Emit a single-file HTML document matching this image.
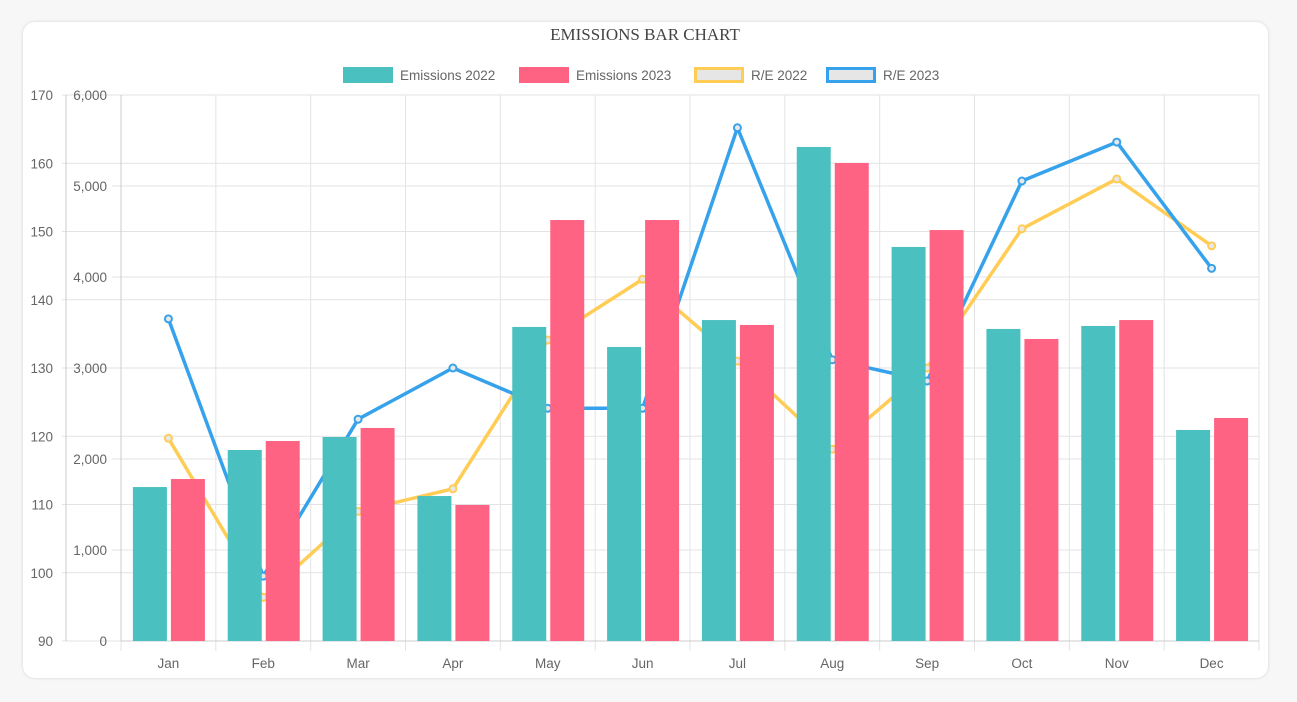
<!DOCTYPE html>
<html><head><meta charset="utf-8"><style>
body{margin:0;background:#f7f7f8;width:1297px;height:702px;overflow:hidden;font-family:"Liberation Sans",sans-serif}
#card{position:absolute;left:23px;top:22px;width:1245px;height:656px;background:#fff;border-radius:12px;box-shadow:0 0 3px rgba(0,0,0,0.15)}
svg{position:absolute;left:0;top:0}
</style></head><body>
<div id="card"></div>
<svg id="chart" width="1297" height="702"></svg>
<script>
const months=["Jan","Feb","Mar","Apr","May","Jun","Jul","Aug","Sep","Oct","Nov","Dec"];
const emissions2022=[1692,2099,2242,1593,3451,3231,3527,5429,4330,3429,3462,2319];
const emissions2023=[1780,2198,2341,1495,4626,4626,3473,5253,4516,3319,3527,2451];
const re2022=[119.7,96.4,109.0,112.3,134.1,143.0,131.0,118.1,130.0,150.4,157.7,147.9];
const re2023=[137.2,99.5,122.5,130.0,124.1,124.1,165.2,131.2,128.1,157.4,163.1,144.6];
const reTicks=[90,100,110,120,130,140,150,160,170];
const emTicks=[0,1000,2000,3000,4000,5000,6000];
const NS="http://www.w3.org/2000/svg";
const svg=document.getElementById('chart');
const L=121,R=1259,T=95,B=641;
const yRE=v=>B-(v-90)/80*(B-T);
const yEm=v=>B-v/6000*(B-T);
const cw=(R-L)/12;
const xC=i=>L+cw*(i+0.5);
function el(tag,a,txt){const e=document.createElementNS(NS,tag);for(const k in a)e.setAttribute(k,a[k]);if(txt!==undefined)e.textContent=txt;svg.appendChild(e);return e;}
let t=el('text',{x:645,y:40,'text-anchor':'middle','font-family':'Liberation Serif,serif','font-size':17,fill:'#444'},'EMISSIONS BAR CHART');


reTicks.forEach(v=>{const y=yRE(v);
 let g=el('line',{x1:62,x2:R,y1:y,y2:y,stroke:'#e3e3e3'});
 
 
 let tx=el('text',{x:53,y:y+5,'text-anchor':'end','font-size':13.5,fill:'#666'},v);
 
 });
emTicks.forEach(v=>{const y=yEm(v);
 let g=el('line',{x1:112,x2:R,y1:y,y2:y,stroke:'#e3e3e3'});
 
 
 let tx=el('text',{x:107,y:y+5,'text-anchor':'end','font-size':13.5,fill:'#666'},v.toLocaleString('en-US'));
 
 });
for(let i=0;i<=12;i++){const x=L+cw*i;let g=el('line',{x1:x,x2:x,y1:T,y2:B+10,stroke:'#e3e3e3'});
 
 }
el('line',{x1:66,x2:66,y1:T,y2:B,stroke:'#ccc'});
el('line',{x1:L,x2:L,y1:T,y2:B,stroke:'#ccc'});
el('line',{x1:L,x2:R,y1:B,y2:B,stroke:'#ccc'});
months.forEach((m,i)=>{let tx=el('text',{x:xC(i),y:668,'text-anchor':'middle','font-size':13.5,fill:'#666'},m);
 
 });
function line(data,color,name){
 const p=el('polyline',{points:data.map((v,i)=>xC(i)+','+yRE(v)).join(' '),fill:'none',stroke:color,'stroke-width':3.5,'stroke-linejoin':'round'});
 
 
 data.forEach((v,i)=>{const c=el('circle',{cx:xC(i),cy:yRE(v),r:3.5,fill:'#e8e8e8',stroke:color,'stroke-width':2});
  
  });
}
line(re2022,'#ffcd56','re-2022');
line(re2023,'#36a2eb','re-2023');
const bw=34;
months.forEach((m,i)=>{
 let b1=el('rect',{x:xC(i)-bw-1.5,y:yEm(emissions2022[i]),width:bw,height:B-yEm(emissions2022[i]),fill:'#4bc0c0'});
 
 
 let b2=el('rect',{x:xC(i)+2.5,y:yEm(emissions2023[i]),width:bw,height:B-yEm(emissions2023[i]),fill:'#ff6384'});
 
 });
const leg=[["Emissions 2022","#4bc0c0","#4bc0c0",343],["Emissions 2023","#ff6384","#ff6384",519],["R/E 2022","#e6e6e6","#ffcd56",694],["R/E 2023","#e6e6e6","#36a2eb",826]];
leg.forEach(l=>{
 let r=el('rect',{x:l[3]+1.5,y:68.5,width:47,height:13,fill:l[1],stroke:l[2],'stroke-width':3});
 
 
 let tx=el('text',{x:l[3]+57,y:80,'font-size':13.5,fill:'#666'},l[0]);
 
 });
</script>
</body></html>
